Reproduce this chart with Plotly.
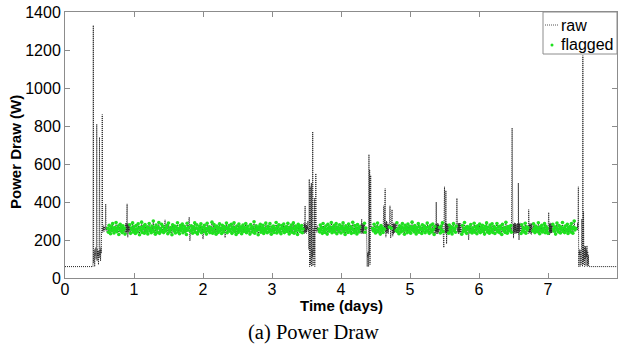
import numpy as np
import plotly.graph_objects as go

# ---------------- data ----------------
# baseline before the machine switches on
start_base_t = [0.0]
start_base_w = [60]

# start-up burst, sampled every 0.005 day from t = 0.40
startup_t0, fine_dt = 0.40, 0.005
startup_w = [60, 60, 1330, 80, 110, 150, 60, 130, 120, 160,
             100, 140, 810, 90, 150, 115, 135, 70, 145, 105,
             740, 120, 150, 90, 160, 130, 250, 270, 860, 240,
             265, 250, 275, 245, 260, 270, 250, 265, 390, 255,
             268, 245, 262]

# normal running band 1, every 0.01 day from t = 0.62
band1_t0, band_dt = 0.62, 0.01
band1_w = [262, 241, 278, 255, 233, 270, 249, 286, 258, 237, 266, 251, 292, 244, 260, 274, 229, 256, 283, 247,
           268, 239, 275, 252, 262, 231, 288, 245, 390, 214, 271, 246, 280, 235, 263, 254, 290, 242, 269, 250,
           234, 276, 258, 243, 285, 262, 228, 267, 251, 294, 240, 259, 273, 236, 281, 255, 246, 270, 232, 264,
           287, 249, 261, 238, 274, 253, 300, 244, 266, 230, 279, 257, 241, 268, 292, 235, 260, 250, 283, 245,
           271, 239, 256, 306, 248, 263, 277, 233, 289, 252, 243, 266, 258, 228, 280, 261, 247, 274, 237, 269,
           254, 291, 242, 260, 233, 276, 250, 265, 284, 238, 257, 272, 245, 262, 229, 288, 251, 267, 320, 195,
           248, 275, 257, 236, 270, 253, 290, 241, 263, 280, 232, 259, 246, 272, 255, 285, 238, 266, 205, 250,
           277, 243, 262, 231, 288, 256, 247, 270, 239, 265, 252, 294, 236, 259, 281, 244, 268, 230, 273, 255,
           240, 266, 285, 249, 262, 234, 278, 257, 243, 271, 212, 260, 289, 238, 264, 251, 276, 246, 258, 283,
           235, 268, 252, 291, 244, 261, 229, 274, 256, 240, 284, 263, 248, 270, 233, 259, 279, 245, 266, 251,
           287, 238, 260, 272, 247, 256, 231, 281, 264, 242, 269, 253, 296, 236, 258, 275, 249, 262, 228, 270,
           255, 283, 241, 264, 250, 277, 234, 261, 246, 289, 257, 238, 272, 260, 244, 286, 253, 230, 268, 248,
           274, 240, 263, 256, 292, 237, 269, 251, 280, 243, 259, 233, 276, 262, 247, 284, 239, 265, 254, 271,
           245, 288, 258, 232, 267, 250, 279, 241, 262, 290, 236, 257, 273, 248, 264, 229, 282, 253, 269, 244,
           261, 276, 238, 258, 270]

# event near day 3.5, every 0.005 day
eventB_t0 = 3.48
eventB_w = [380, 255, 270, 250, 265, 248, 272, 258, 300, 245,
            262, 150, 520, 60, 140, 480, 70, 130, 500, 60,
            150, 110, 770, 65, 140, 260, 120, 420, 60, 270,
            250, 550, 255, 265, 240, 275, 250, 262, 245, 258]

# normal running band 2
band2_t0 = 3.68
band2_w = [258, 243, 279, 252, 266, 235, 287, 249, 261, 240, 274, 256, 231, 283, 262, 246, 270, 253, 292, 238,
           265, 250, 277, 242, 259, 286, 233, 268, 254, 245, 280, 261, 237, 272, 257, 290, 244, 263, 229, 275,
           251, 266, 240, 284, 258, 247, 271, 235, 262, 293, 253, 239, 276, 248, 264, 232, 281, 256, 242, 269,
           260, 245, 310, 236, 274, 252, 288, 241, 263]

# event near day 4.4, every 0.005 day
eventC_t0 = 4.37
eventC_w = [262, 150, 60, 130, 110, 140, 60, 650, 120, 570,
            70, 280, 540, 260, 250, 270, 255]

# normal running band 3
band3_t0 = 4.46
band3_w = [262, 248, 283, 255, 237, 270, 251, 289, 243, 266, 258, 231, 276, 249, 264, 240, 380, 257, 470, 215,
           300, 272, 246, 259, 268, 380, 210, 262, 360, 220, 281, 253, 238, 267, 250, 291, 244, 260, 233, 275,
           256, 242, 269, 287, 248, 263, 230, 278, 252, 266, 239, 284, 258, 245, 272, 236, 261, 294, 251, 268,
           243, 276, 257, 232, 265, 250, 286, 241, 270, 255, 262, 234, 280, 247, 259, 273, 238, 264, 252, 289,
           246, 268, 235, 261, 277, 250, 242, 284, 256, 229, 271, 263, 400, 240, 258, 282, 248, 266, 237, 274,
           253, 290, 244, 160, 480, 262, 460, 180, 268, 251, 236, 279, 257, 245, 270, 232, 263, 286, 249, 259,
           241, 273, 420, 255, 238, 267, 283, 250, 262, 230, 276, 244, 259, 292, 247, 265, 235, 271, 256, 200,
           268, 243, 281, 252, 237, 264, 250, 288, 241, 270, 257, 233, 275, 261, 246, 284, 239, 266, 253, 278,
           245, 260, 231, 272, 256, 290, 242, 267, 250, 236, 279, 263, 248, 285, 240, 258, 271, 234, 262, 254,
           287, 244, 269, 251, 238, 274, 260, 229, 282, 255, 247, 266, 240, 293, 258, 236, 271, 249, 263, 252,
           276, 241, 790, 258, 210, 268, 250, 283, 237, 262, 245, 500, 200, 272, 256, 234, 280, 249, 265, 243,
           259, 288, 236, 270, 252, 264, 360, 241, 277, 255, 230, 268, 247, 285, 260, 239, 273, 251, 266, 244,
           291, 257, 233, 269, 250, 278, 242, 263, 255, 286, 238, 272, 248, 261, 235, 345, 226, 275, 253, 267,
           240, 282, 258, 246, 270, 231, 264, 289, 252, 243, 276, 260, 237, 268, 254, 292, 245, 263, 239, 274,
           256, 248, 283, 234, 265, 251, 271, 242, 287, 259, 236, 268, 300, 253, 262]

# shutdown burst near day 7.5, every 0.005 day
eventD_t0 = 7.415
eventD_w = [258, 270, 250, 290, 265, 480, 60, 140, 120, 150,
            60, 130, 145, 70, 135, 310, 260, 60, 1170, 70,
            350, 90, 160, 60, 170, 100, 165, 65, 150, 110,
            170, 60, 140, 70, 120, 60, 60]

# baseline after switch-off
end_base_t = [8.0]
end_base_w = [60]

# short fast-cycling bursts inside the band (dark marks), every 0.004 day
burst_dt = 0.004
burst_starts = [0.885, 3.46, 4.285, 4.645, 4.745, 5.37, 5.51, 5.69,
                6.495, 6.55, 6.72, 7.02]
burst_w = [
    [238, 286, 235, 290, 244, 282, 232, 288, 250, 278, 236, 284],
    [240, 288, 233, 284, 246, 291, 237, 280, 242, 287, 235, 279],
    [236, 283, 241, 290, 234, 286, 245, 281, 238, 289, 232, 285],
    [242, 289, 230, 284, 239, 292, 236, 280, 247, 287, 233, 282],
    [235, 287, 243, 281, 232, 290, 240, 285, 237, 283, 244, 288],
    [239, 284, 234, 291, 246, 280, 231, 287, 243, 286, 236, 282],
    [233, 290, 240, 283, 237, 288, 245, 279, 232, 286, 241, 284],
    [244, 281, 236, 289, 231, 285, 242, 290, 238, 282, 235, 287],
    [237, 286, 243, 280, 234, 291, 239, 284, 246, 288, 232, 283],
    [241, 283, 235, 289, 244, 282, 230, 287, 238, 285, 243, 290],
    [234, 288, 240, 282, 237, 286, 245, 281, 233, 289, 239, 284],
    [245, 285, 232, 290, 238, 281, 243, 288, 236, 283, 240, 286],
]

# flagged = in-band readings outside the burst windows
flag_low, flag_high = 222, 302

# ---------------- build series ----------------
def seg(t0, dt, vals):
    return list(t0 + dt * np.arange(len(vals))), list(vals)

band_parts = [seg(band1_t0, band_dt, band1_w),
              seg(band2_t0, band_dt, band2_w),
              seg(band3_t0, band_dt, band3_w)]
burst_parts = [seg(t0, burst_dt, w) for t0, w in zip(burst_starts, burst_w)]
parts = ([(start_base_t, start_base_w), seg(startup_t0, fine_dt, startup_w),
          seg(eventB_t0, fine_dt, eventB_w), seg(eventC_t0, fine_dt, eventC_w),
          seg(eventD_t0, fine_dt, eventD_w), (end_base_t, end_base_w)]
         + band_parts + burst_parts)

pairs = []
for t, w in parts:
    pairs += list(zip(t, w))
pairs.sort(key=lambda p: p[0])
raw_t = [p[0] for p in pairs]
raw_w = [p[1] for p in pairs]

windows = [(t0, t0 + burst_dt * (len(w) - 1)) for t0, w in zip(burst_starts, burst_w)]
flag_t, flag_w = [], []
for t, w in band_parts:
    for ti, wi in zip(t, w):
        in_burst = any(a - 0.006 <= ti <= b + 0.006 for a, b in windows)
        if flag_low <= wi <= flag_high and not in_burst:
            flag_t.append(ti)
            flag_w.append(wi)

GREEN = "#1fe01f"
GREY = "#8c8c8c"
SANS = "Liberation Sans, Arial"

# ---------------- figure ----------------
fig = go.Figure()
fig.add_trace(go.Scatter(
    x=raw_t, y=raw_w, mode="lines", name="raw", showlegend=False,
    line=dict(color="#222222", width=1, dash="1px,1px", simplify=False),
))
fig.add_trace(go.Scatter(
    x=flag_t, y=flag_w, mode="markers", name="flagged", showlegend=False,
    marker=dict(color=GREEN, size=3.6, line=dict(width=0)),
))

axis_common = dict(
    showline=True, linecolor=GREY, linewidth=1, mirror="ticks",
    ticks="inside", ticklen=5, tickcolor=GREY,
    showgrid=False, zeroline=False,
    tickfont=dict(family=SANS, size=16, color="black"),
)
fig.update_xaxes(range=[0, 8], dtick=1, ticklabelstandoff=-3, **axis_common)
fig.update_yaxes(range=[0, 1400], dtick=200, **axis_common)

# plot area in pixels: x 65..617, y 12..278
PW, PH, L, T = 552, 266, 65, 12
def px(x):
    return (x - L) / PW
def py(y):
    return (T + PH - y) / PH

# legend drawn as a framed box with real text
leg_shapes = [
    dict(type="rect", xref="paper", yref="paper",
         x0=px(543), x1=px(617), y0=py(54), y1=py(12),
         line=dict(color=GREY, width=1), fillcolor="white", layer="above"),
    dict(type="line", xref="paper", yref="paper",
         x0=px(545), x1=px(558), y0=py(25), y1=py(25),
         line=dict(color="#555555", width=1, dash="1px,1px"), layer="above"),
    dict(type="circle", xref="paper", yref="paper",
         x0=px(550.5), x1=px(553.5), y0=py(46.5), y1=py(43.5),
         line=dict(width=0), fillcolor=GREEN, layer="above"),
]

fig.update_layout(
    width=621, height=348,
    margin=dict(l=L, r=4, t=T, b=70),
    paper_bgcolor="white", plot_bgcolor="white",
    showlegend=False,
    shapes=leg_shapes,
    annotations=[
        dict(text="raw", xref="paper", yref="paper",
             x=px(559), y=py(25), xanchor="left", yanchor="middle",
             showarrow=False, font=dict(family=SANS, size=16, color="black")),
        dict(text="flagged", xref="paper", yref="paper",
             x=px(559), y=py(44), xanchor="left", yanchor="middle",
             showarrow=False, font=dict(family=SANS, size=16, color="black")),
        dict(text="<b>Time (days)</b>", xref="paper", yref="paper",
             x=0.5, y=py(306), xanchor="center", yanchor="middle",
             showarrow=False, font=dict(family=SANS, size=15, color="black")),
        dict(text="<b>Power Draw (W)</b>", xref="paper", yref="paper",
             x=px(15), y=py(152), xanchor="center", yanchor="middle",
             textangle=-90, showarrow=False,
             font=dict(family=SANS, size=15, color="black")),
        dict(text="(a) Power Draw", xref="paper", yref="paper",
             x=px(313), y=py(332), xanchor="center", yanchor="middle",
             showarrow=False,
             font=dict(family="Liberation Serif, Times New Roman", size=20.5, color="black")),
    ],
)

fig.write_html("out.html")
